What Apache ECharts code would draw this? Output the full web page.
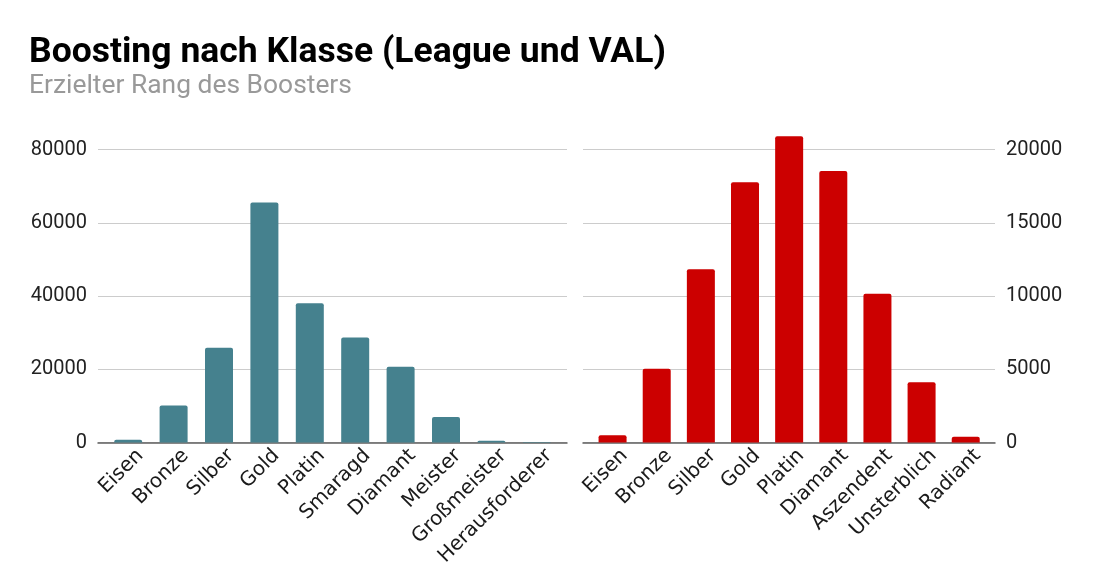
<!DOCTYPE html>
<html>
<head>
<meta charset="utf-8">
<script src="https://cdn.jsdelivr.net/npm/echarts@6/dist/echarts.min.js"></script>
<style>
html,body{margin:0;padding:0;background:#fff;}
#chart{width:1120px;height:577px;}
</style>
</head>
<body>
<div id="chart"></div>
<script>
const titleText = 'Boosting nach Klasse (League und VAL)';
const subtitleText = 'Erzielter Rang des Boosters';

const lolCategories = ['Eisen','Bronze','Silber','Gold','Platin','Smaragd','Diamant','Meister','Großmeister','Herausforderer'];
const lolValues = [750, 10100, 25900, 65500, 38000, 28700, 20700, 6950, 460, 120];

const valCategories = ['Eisen','Bronze','Silber','Gold','Platin','Diamant','Aszendent','Unsterblich','Radiant'];
const valValues = [500, 5030, 11820, 17760, 20910, 18530, 10150, 4120, 385];

const lolTicks = [0, 20000, 40000, 60000, 80000];
const valTicks = [0, 5000, 10000, 15000, 20000];

const tealColor = '#45818e';
const redColor = '#cc0000';

const chart = echarts.init(document.getElementById('chart'));
const TOP = 149.5, BOTTOM = 134.5;
const LABEL_DX = 12, LABEL_DY = 4;

function wideX(gridIndex, cats) {
  return {
    type: 'category', gridIndex: gridIndex, data: cats,
    axisLine: {show: true, lineStyle: {color: '#5f5f5f', width: 1.5}},
    axisTick: {show: false}, axisLabel: {show: false}, splitLine: {show: false}
  };
}
function barX(gridIndex, cats) {
  return {
    type: 'category', gridIndex: gridIndex, data: cats,
    axisLine: {show: false}, axisTick: {show: false}, axisLabel: {show: false}
  };
}
function labelX(gridIndex, cats) {
  return {
    type: 'category', gridIndex: gridIndex, data: cats,
    axisLine: {show: false}, axisTick: {show: false},
    axisLabel: {
      show: true, rotate: 45, margin: 6, interval: 0,
      fontFamily: 'DejaVu Sans', fontSize: 20, color: '#1a1a1a'
    }
  };
}
function visY(gridIndex, ticks, pos) {
  return {
    type: 'value', gridIndex: gridIndex, position: pos,
    min: ticks[0], max: ticks[ticks.length-1], interval: ticks[1]-ticks[0],
    axisLine: {show: false}, axisTick: {show: false},
    axisLabel: {show: true, fontFamily: 'Roboto', fontSize: 20, color: '#222', margin: 11,
                formatter: function (v) { return String(v); }},
    splitLine: {show: true, lineStyle: {color: '#cccccc', width: 1}}
  };
}
function hidY(gridIndex, ticks) {
  return {
    type: 'value', gridIndex: gridIndex,
    min: ticks[0], max: ticks[ticks.length-1], interval: ticks[1]-ticks[0],
    show: false, splitLine: {show: false}
  };
}

chart.setOption({
  animation: false,
  backgroundColor: '#ffffff',
  title: {
    text: titleText, subtext: subtitleText,
    left: 29, top: 35, padding: 0, itemGap: 2,
    textStyle: {fontFamily: 'Roboto', fontWeight: 'bold', fontSize: 35.5, color: '#000'},
    subtextStyle: {fontFamily: 'Roboto', fontSize: 26.4, color: '#999999'}
  },
  grid: [
    {left: 98, right: 1120-567, top: TOP, bottom: BOTTOM},
    {left: 105.5, right: 1120-559.5, top: TOP, bottom: BOTTOM},
    {left: 583, right: 1120-995, top: TOP, bottom: BOTTOM},
    {left: 590.5, right: 1120-987.8, top: TOP, bottom: BOTTOM},
    {left: 105.5+LABEL_DX, right: 1120-559.5-LABEL_DX, top: TOP, bottom: BOTTOM-LABEL_DY},
    {left: 590.5+LABEL_DX, right: 1120-987.8-LABEL_DX, top: TOP, bottom: BOTTOM-LABEL_DY}
  ],
  xAxis: [
    wideX(0, lolCategories), barX(1, lolCategories),
    wideX(2, valCategories), barX(3, valCategories),
    labelX(4, lolCategories), labelX(5, valCategories)
  ],
  yAxis: [
    visY(0, lolTicks, 'left'), hidY(1, lolTicks),
    visY(2, valTicks, 'right'), hidY(3, valTicks),
    hidY(4, lolTicks), hidY(5, valTicks)
  ],
  series: [
    {type: 'bar', xAxisIndex: 1, yAxisIndex: 1, data: lolValues, barWidth: 28, clip: false, z: 5,
     itemStyle: {color: tealColor, borderRadius: [2,2,0,0]}},
    {type: 'bar', xAxisIndex: 3, yAxisIndex: 3, data: valValues, barWidth: 28, clip: false, z: 5,
     itemStyle: {color: redColor, borderRadius: [2,2,0,0]}}
  ]
});
</script>
</body>
</html>
